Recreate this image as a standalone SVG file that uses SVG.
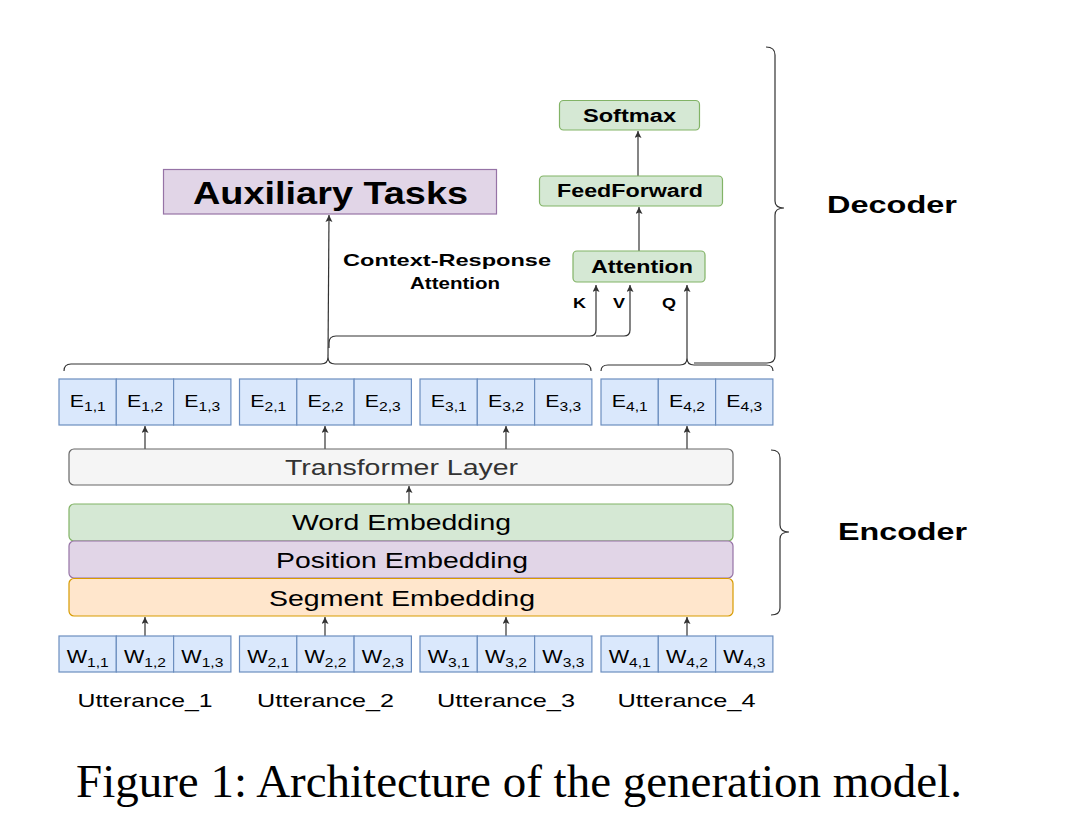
<svg xmlns="http://www.w3.org/2000/svg" width="1072" height="832" viewBox="0 0 1072 832">
<defs>
<marker id="ah" markerUnits="userSpaceOnUse" markerWidth="9" markerHeight="8" refX="7" refY="3.5" orient="auto">
<path d="M0,0 L7,3.5 L0,7 L1.5,3.5 z" fill="#333"/>
</marker>
<style>
.cell{fill:#dae8fc;stroke:#6c8ebf;stroke-width:1.2}
.green{fill:#d5e8d4;stroke:#82b366;stroke-width:1.2}
.purple{fill:#e1d5e7;stroke:#9673a6;stroke-width:1.2}
.orange{fill:#ffe6cc;stroke:#d79b00;stroke-width:1.2}
.grey{fill:#f5f5f5;stroke:#666;stroke-width:1.2}
.t{font-family:"Liberation Sans",Arial,sans-serif;fill:#000}
.b{font-family:"Liberation Sans",Arial,sans-serif;font-weight:bold;fill:#000}
.cl{font-family:"Liberation Sans",Arial,sans-serif;font-size:17px;fill:#000;text-anchor:middle}
.wl{font-family:"Liberation Sans",Arial,sans-serif;font-size:18px;fill:#000;text-anchor:middle}
.con{fill:none;stroke:#333;stroke-width:1.2}
.arr{fill:none;stroke:#333;stroke-width:1.2;marker-end:url(#ah)}
</style>
</defs>
<rect width="1072" height="832" fill="#fff"/>

<g id="connectors">
<path class="arr" d="M145 636 L145 617"/>
<path class="arr" d="M325 636 L325 617"/>
<path class="arr" d="M506 636 L506 617"/>
<path class="arr" d="M687 636 L687 617"/>
<path class="arr" d="M409 504 L409 486"/>
<path class="arr" d="M145 449 L145 426"/>
<path class="arr" d="M325 449 L325 426"/>
<path class="arr" d="M506 449 L506 426"/>
<path class="arr" d="M687 449 L687 426"/>
<path class="con" d="M64 371 Q64 364 71 364 L321 364 Q328 364 328 357 Q328 364 335 364 L584 364 Q591 364 591 371"/>
<path class="arr" d="M328 357 L329 215"/>
<path class="con" d="M329 348 L329 343 Q329 336 336 336 L590 336 Q596 336 596 330"/>
<path class="arr" d="M596 330 L596 285"/>
<path class="con" d="M596 336 L624 336 Q630 336 630 330"/>
<path class="arr" d="M630 330 L630 285"/>
<path class="con" d="M601 371 Q601 365 608 365 L680 365 Q687 365 687 358 Q687 365 694 365 L766 365 Q773 365 773 371"/>
<path class="arr" d="M687 358 L687 285"/>
<path class="con" d="M766 47 Q775 47 775 55 L775 201 Q775 208 784 208 Q775 208 775 215 L775 356 Q775 363 767 363 L694 363"/>
<path class="arr" d="M639 251 L639 207"/>
<path class="arr" d="M638 176 L638 131"/>
<path class="con" d="M771 450 Q780 450 780 458 L780 525 Q780 532 789 532 Q780 532 780 539 L780 608 Q780 615 771 615"/>
</g>

<g id="auxiliary">
<rect class="purple" x="163.5" y="169.5" width="333" height="44.5"/>
<text class="b" x="330.5" y="204" font-size="32" text-anchor="middle" textLength="275" lengthAdjust="spacingAndGlyphs">Auxiliary Tasks</text>
</g>
<g id="softmax">
<rect class="green" x="559.5" y="100.5" width="140" height="29.5" rx="4"/>
<text class="b" x="629.5" y="122" font-size="18" text-anchor="middle" textLength="93" lengthAdjust="spacingAndGlyphs">Softmax</text>
</g>
<g id="feedforward">
<rect class="green" x="539.5" y="176" width="183" height="30" rx="4"/>
<text class="b" x="630" y="197" font-size="18" text-anchor="middle" textLength="146" lengthAdjust="spacingAndGlyphs">FeedForward</text>
</g>
<g id="attention">
<rect class="green" x="573" y="251" width="132" height="31" rx="4"/>
<text class="b" x="642" y="273" font-size="18" text-anchor="middle" textLength="102" lengthAdjust="spacingAndGlyphs">Attention</text>
</g>
<g id="labels">
<text class="b" x="447" y="266" font-size="17" text-anchor="middle" textLength="208" lengthAdjust="spacingAndGlyphs">Context-Response</text>
<text class="b" x="455" y="289" font-size="17" text-anchor="middle" textLength="90" lengthAdjust="spacingAndGlyphs">Attention</text>
<text class="b" x="573" y="308" font-size="14" textLength="13" lengthAdjust="spacingAndGlyphs">K</text>
<text class="b" x="613" y="308" font-size="14" textLength="12" lengthAdjust="spacingAndGlyphs">V</text>
<text class="b" x="662" y="308" font-size="14" textLength="14" lengthAdjust="spacingAndGlyphs">Q</text>
<text class="b" x="827" y="213" font-size="23" textLength="130" lengthAdjust="spacingAndGlyphs">Decoder</text>
<text class="b" x="838" y="540" font-size="23" textLength="129" lengthAdjust="spacingAndGlyphs">Encoder</text>
</g>

<g id="E1">
<rect class="cell" x="59" y="379" width="57.3" height="46"/><rect class="cell" x="116.3" y="379" width="57.3" height="46"/><rect class="cell" x="173.6" y="379" width="57.3" height="46"/>
<text class="cl" transform="translate(87.7 407) scale(1.25 1)">E<tspan font-size="12.5" dy="4">1,1</tspan></text>
<text class="cl" transform="translate(145 407) scale(1.25 1)">E<tspan font-size="12.5" dy="4">1,2</tspan></text>
<text class="cl" transform="translate(202.3 407) scale(1.25 1)">E<tspan font-size="12.5" dy="4">1,3</tspan></text>
</g>
<g id="E2">
<rect class="cell" x="239.5" y="379" width="57.3" height="46"/><rect class="cell" x="296.8" y="379" width="57.3" height="46"/><rect class="cell" x="354.1" y="379" width="57.3" height="46"/>
<text class="cl" transform="translate(268.2 407) scale(1.25 1)">E<tspan font-size="12.5" dy="4">2,1</tspan></text>
<text class="cl" transform="translate(325.5 407) scale(1.25 1)">E<tspan font-size="12.5" dy="4">2,2</tspan></text>
<text class="cl" transform="translate(382.8 407) scale(1.25 1)">E<tspan font-size="12.5" dy="4">2,3</tspan></text>
</g>
<g id="E3">
<rect class="cell" x="420" y="379" width="57.3" height="46"/><rect class="cell" x="477.3" y="379" width="57.3" height="46"/><rect class="cell" x="534.6" y="379" width="57.3" height="46"/>
<text class="cl" transform="translate(448.7 407) scale(1.25 1)">E<tspan font-size="12.5" dy="4">3,1</tspan></text>
<text class="cl" transform="translate(506 407) scale(1.25 1)">E<tspan font-size="12.5" dy="4">3,2</tspan></text>
<text class="cl" transform="translate(563.3 407) scale(1.25 1)">E<tspan font-size="12.5" dy="4">3,3</tspan></text>
</g>
<g id="E4">
<rect class="cell" x="601" y="379" width="57.3" height="46"/><rect class="cell" x="658.3" y="379" width="57.3" height="46"/><rect class="cell" x="715.6" y="379" width="57.3" height="46"/>
<text class="cl" transform="translate(629.7 407) scale(1.25 1)">E<tspan font-size="12.5" dy="4">4,1</tspan></text>
<text class="cl" transform="translate(687 407) scale(1.25 1)">E<tspan font-size="12.5" dy="4">4,2</tspan></text>
<text class="cl" transform="translate(744.3 407) scale(1.25 1)">E<tspan font-size="12.5" dy="4">4,3</tspan></text>
</g>

<g id="transformer">
<rect class="grey" x="69" y="449" width="664" height="36" rx="5"/>
<text class="t" x="401.5" y="475" font-size="22" text-anchor="middle" fill="#333" style="fill:#333" textLength="233" lengthAdjust="spacingAndGlyphs">Transformer Layer</text>
</g>
<g id="word-embedding">
<rect class="green" x="69" y="504" width="664" height="37" rx="5"/>
<text class="t" x="401.5" y="530" font-size="22" text-anchor="middle" textLength="219" lengthAdjust="spacingAndGlyphs">Word Embedding</text>
</g>
<g id="position-embedding">
<rect class="purple" x="69" y="541" width="664" height="37" rx="5"/>
<text class="t" x="402" y="568" font-size="22" text-anchor="middle" textLength="252" lengthAdjust="spacingAndGlyphs">Position Embedding</text>
</g>
<g id="segment-embedding">
<rect class="orange" x="69" y="578.5" width="664" height="37.5" rx="5"/>
<text class="t" x="402" y="606" font-size="22" text-anchor="middle" textLength="266" lengthAdjust="spacingAndGlyphs">Segment Embedding</text>
</g>

<g id="W1">
<rect class="cell" x="59" y="636" width="57.3" height="36"/><rect class="cell" x="116.3" y="636" width="57.3" height="36"/><rect class="cell" x="173.6" y="636" width="57.3" height="36"/>
<text class="wl" transform="translate(87.7 663) scale(1.2 1)">W<tspan font-size="13" dy="4">1,1</tspan></text>
<text class="wl" transform="translate(145 663) scale(1.2 1)">W<tspan font-size="13" dy="4">1,2</tspan></text>
<text class="wl" transform="translate(202.3 663) scale(1.2 1)">W<tspan font-size="13" dy="4">1,3</tspan></text>
</g>
<g id="W2">
<rect class="cell" x="239.5" y="636" width="57.3" height="36"/><rect class="cell" x="296.8" y="636" width="57.3" height="36"/><rect class="cell" x="354.1" y="636" width="57.3" height="36"/>
<text class="wl" transform="translate(268.2 663) scale(1.2 1)">W<tspan font-size="13" dy="4">2,1</tspan></text>
<text class="wl" transform="translate(325.5 663) scale(1.2 1)">W<tspan font-size="13" dy="4">2,2</tspan></text>
<text class="wl" transform="translate(382.8 663) scale(1.2 1)">W<tspan font-size="13" dy="4">2,3</tspan></text>
</g>
<g id="W3">
<rect class="cell" x="420" y="636" width="57.3" height="36"/><rect class="cell" x="477.3" y="636" width="57.3" height="36"/><rect class="cell" x="534.6" y="636" width="57.3" height="36"/>
<text class="wl" transform="translate(448.7 663) scale(1.2 1)">W<tspan font-size="13" dy="4">3,1</tspan></text>
<text class="wl" transform="translate(506 663) scale(1.2 1)">W<tspan font-size="13" dy="4">3,2</tspan></text>
<text class="wl" transform="translate(563.3 663) scale(1.2 1)">W<tspan font-size="13" dy="4">3,3</tspan></text>
</g>
<g id="W4">
<rect class="cell" x="601" y="636" width="57.3" height="36"/><rect class="cell" x="658.3" y="636" width="57.3" height="36"/><rect class="cell" x="715.6" y="636" width="57.3" height="36"/>
<text class="wl" transform="translate(629.7 663) scale(1.2 1)">W<tspan font-size="13" dy="4">4,1</tspan></text>
<text class="wl" transform="translate(687 663) scale(1.2 1)">W<tspan font-size="13" dy="4">4,2</tspan></text>
<text class="wl" transform="translate(744.3 663) scale(1.2 1)">W<tspan font-size="13" dy="4">4,3</tspan></text>
</g>

<g id="utterances">
<text class="t" x="145" y="707" font-size="19" text-anchor="middle" textLength="135" lengthAdjust="spacingAndGlyphs">Utterance_1</text>
<text class="t" x="325.5" y="707" font-size="19" text-anchor="middle" textLength="137" lengthAdjust="spacingAndGlyphs">Utterance_2</text>
<text class="t" x="506" y="707" font-size="19" text-anchor="middle" textLength="138" lengthAdjust="spacingAndGlyphs">Utterance_3</text>
<text class="t" x="686.5" y="707" font-size="19" text-anchor="middle" textLength="138" lengthAdjust="spacingAndGlyphs">Utterance_4</text>
</g>

<g id="caption">
<text x="76" y="797" font-family="'Liberation Serif','Times New Roman',serif" font-size="46" fill="#000" textLength="886" lengthAdjust="spacingAndGlyphs">Figure 1: Architecture of the generation model.</text>
</g>
</svg>
